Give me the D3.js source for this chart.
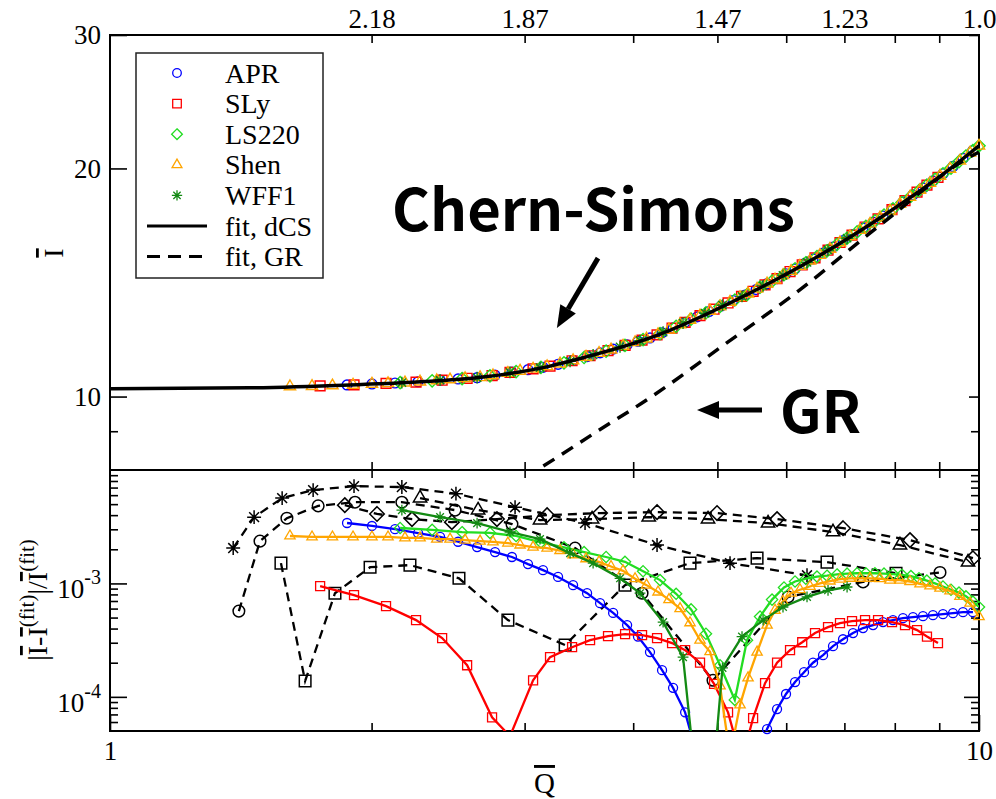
<!DOCTYPE html>
<html><head><meta charset="utf-8">
<script src="https://cdn.jsdelivr.net/npm/d3@7"></script>
<style>body{margin:0;background:#fff}svg{display:block}</style>
</head><body>
<svg id="chart" width="996" height="799"></svg>
<script>
// ---------------- DATA ----------------
const eosNames = ["APR", "SLy", "LS220", "Shen", "WFF1"];

// APR (dCS data)
const aprQ = [1.874,2.002,2.128,2.262,2.398,2.515,2.645,2.774,2.901,3.027,3.150,3.278,3.411,3.540,3.664,3.793,3.936,4.051,4.182,4.318,4.446,4.590,4.74,4.89,5.05,5.21,5.38,5.54,5.703,5.856,5.997,6.142,6.290,6.442,6.615,6.792,6.975,7.162,7.354,7.552,7.754,7.962,8.176,8.396,8.621,8.852,9.090,9.334,9.585,9.841];
const aprI = [10.36,10.39,10.42,10.46,10.51,10.55,10.59,10.67,10.77,10.85,10.93,11.03,11.16,11.29,11.42,11.55,11.70,11.83,11.95,12.14,12.32,12.53,12.74,12.95,13.17,13.39,13.61,13.84,14.09,14.31,14.52,14.74,14.97,15.19,15.46,15.75,16.06,16.36,16.68,16.99,17.31,17.69,18.07,18.46,18.85,19.26,19.68,20.12,20.62,21.12];
const aprRes = [3.41e-3,3.21e-3,3.01e-3,2.78e-3,2.57e-3,2.33e-3,2.09e-3,1.89e-3,1.71e-3,1.48e-3,1.31e-3,1.14e-3,9.66e-4,8.2e-4,6.7e-4,5.5e-4,4.29e-4,3.4e-4,2.48e-4,1.72e-4,1.2e-4,7.3e-5,3.0e-5,1.2e-5,4e-6,5e-6,1.4e-5,2.8e-5,5.2e-5,7.8e-5,1.06e-4,1.35e-4,1.65e-4,2.0e-4,2.33e-4,2.8e-4,3.22e-4,3.65e-4,4.04e-4,4.29e-4,4.56e-4,4.75e-4,4.94e-4,5.04e-4,5.14e-4,5.25e-4,5.36e-4,5.47e-4,5.58e-4,5.58e-4];

// SLy
const slyQ = [1.745,1.909,2.078,2.250,2.411,2.576,2.752,2.886,3.068,3.209,3.402,3.568,3.742,3.915,4.095,4.261,4.434,4.590,4.775,4.956,5.143,5.33,5.496,5.673,5.856,6.061,6.26,6.476,6.703,6.919,7.143,7.394,7.653,7.941,8.22,8.486,8.712,8.970];
const slyI = [10.33,10.36,10.41,10.45,10.51,10.57,10.66,10.76,10.88,10.97,11.15,11.32,11.50,11.68,11.87,12.06,12.31,12.53,12.79,13.04,13.29,13.56,13.77,14.04,14.31,14.62,14.92,15.24,15.60,15.97,16.33,16.74,17.16,17.65,18.14,18.61,19.01,19.47];
const slyRes = [9.47e-4,7.89e-4,6.3e-4,4.75e-4,3.3e-4,1.9e-4,6.6e-5,4.5e-5,1.4e-4,2.24e-4,2.74e-4,3.16e-4,3.43e-4,3.57e-4,3.5e-4,3.3e-4,2.98e-4,2.58e-4,2.0e-4,1.3e-4,7.3e-5,2.7e-5,6.5e-5,1.32e-4,2.0e-4,2.58e-4,3.03e-4,3.65e-4,4.12e-4,4.47e-4,4.65e-4,4.75e-4,4.75e-4,4.56e-4,4.29e-4,3.88e-4,3.4e-4,2.98e-4];

// LS220
const ls220Q = [2.157,2.348,2.542,2.737,2.933,3.133,3.33,3.512,3.723,3.914,4.106,4.295,4.482,4.663,4.851,5.035,5.236,5.408,5.598,5.779,5.965,6.142,6.32,6.51,6.685,6.865,7.05,7.24,7.41,7.59,7.775,7.962,8.154,8.35,8.53,8.71,8.9,9.09,9.285,9.484,9.66,9.84,10.0];
const ls220I = [10.43,10.49,10.56,10.65,10.79,10.93,11.08,11.26,11.48,11.68,11.89,12.11,12.38,12.65,12.90,13.15,13.41,13.63,13.94,14.20,14.48,14.74,15.01,15.30,15.57,15.88,16.18,16.49,16.77,17.06,17.36,17.69,18.03,18.38,18.69,19.01,19.34,19.68,20.02,20.42,20.77,21.12,21.42];
const ls220Res = [3.08e-3,2.97e-3,2.83e-3,2.79e-3,2.62e-3,2.3e-3,2.08e-3,1.89e-3,1.71e-3,1.55e-3,1.28e-3,1.07e-3,8.1e-4,5.9e-4,3.6e-4,1.9e-4,9.4e-5,3.16e-4,5.1e-4,7.2e-4,9.2e-4,1.04e-3,1.10e-3,1.15e-3,1.17e-3,1.2e-3,1.22e-3,1.23e-3,1.23e-3,1.23e-3,1.22e-3,1.21e-3,1.19e-3,1.16e-3,1.11e-3,1.06e-3,1.0e-3,9.4e-4,8.8e-4,8.3e-4,7.7e-4,6.9e-4,6.2e-4];

// Shen
const shenQ = [1.611,1.708,1.803,1.904,2.002,2.089,2.185,2.274,2.377,2.462,2.562,2.666,2.759,2.87,2.964,3.068,3.184,3.295,3.411,3.530,3.654,3.772,3.894,4.02,4.144,4.272,4.398,4.529,4.65,4.775,4.903,5.035,5.17,5.309,5.423,5.554,5.703,5.825,5.949,6.077,6.223,6.391,6.562,6.738,6.919,7.105,7.296,7.492,7.693,7.899,8.111,8.329,8.553,8.782,9.018,9.26,9.509,9.764,10.0];
const shenI = [10.31,10.32,10.34,10.36,10.39,10.41,10.43,10.46,10.50,10.53,10.57,10.60,10.66,10.74,10.81,10.88,10.96,11.05,11.16,11.28,11.41,11.53,11.66,11.79,11.92,12.08,12.25,12.45,12.62,12.79,12.97,13.15,13.33,13.52,13.67,13.87,14.09,14.26,14.45,14.64,14.87,15.11,15.37,15.66,15.97,16.27,16.58,16.90,17.22,17.58,17.95,18.34,18.73,19.13,19.55,19.97,20.47,20.97,21.42];
const shenRes = [2.62e-3,2.57e-3,2.57e-3,2.57e-3,2.57e-3,2.57e-3,2.52e-3,2.52e-3,2.46e-3,2.46e-3,2.41e-3,2.36e-3,2.32e-3,2.27e-3,2.18e-3,2.09e-3,2.05e-3,1.95e-3,1.79e-3,1.65e-3,1.55e-3,1.41e-3,1.29e-3,1.10e-3,9.66e-4,8.4e-4,7.2e-4,6.0e-4,4.5e-4,3.16e-4,2.5e-4,1.25e-4,3e-5,8.5e-5,1.47e-4,2.48e-4,4.29e-4,5.8e-4,6.95e-4,8.2e-4,8.8e-4,9.4e-4,1.0e-3,1.05e-3,1.09e-3,1.11e-3,1.11e-3,1.11e-3,1.10e-3,1.07e-3,1.07e-3,1.04e-3,9.9e-4,9.5e-4,9.1e-4,8.6e-4,7.7e-4,6.7e-4,5.1e-4];

// WFF1
const wff1Q = [2.167,2.398,2.645,2.886,3.125,3.384,3.597,3.863,4.073,4.33,4.565,4.84,5.068,5.337,5.643,5.949,6.34,6.703,7.05];
const wff1I = [10.43,10.51,10.59,10.76,10.92,11.13,11.35,11.63,11.85,12.16,12.50,12.88,13.20,13.56,14.00,14.45,15.04,15.60,16.18];
const wff1Res = [4.43e-3,3.85e-3,3.40e-3,2.84e-3,2.46e-3,1.85e-3,1.51e-3,1.11e-3,8.2e-4,4.56e-4,2.24e-4,3e-6,1.8e-4,3.4e-4,4.75e-4,6.2e-4,7.6e-4,8.7e-4,9.3e-4];

// residuals with respect to the GR fit (GR data)
const grAprQ = [1.407,1.488,1.598,1.736,1.914,2.167,2.495,2.901,3.429,4.095,4.942,6.029,7.355,9.018];
const grAprRes = [5.7e-4,2.36e-3,3.76e-3,4.83e-3,5.2e-3,5.2e-3,4.43e-3,3.34e-3,2.05e-3,8.2e-4,1.40e-4,7.6e-4,1.03e-3,1.25e-3];
const grSlyQ = [1.573,1.677,1.815,1.992,2.214,2.521,2.870,3.340,3.914,4.650,5.554,6.685,8.026];
const grSlyRes = [1.51e-3,1.38e-4,8.2e-4,1.39e-3,1.45e-3,1.11e-3,4.75e-4,2.86e-4,9.66e-4,1.51e-3,1.67e-3,1.54e-3,1.23e-3];
const grLs220Q = [1.863,2.029,2.226,2.474,2.788,3.184,3.664,4.261,4.995,5.856,6.975,8.329,9.841];
const grLs220Res = [4.9e-3,4.1e-3,3.69e-3,3.47e-3,3.69e-3,4.0e-3,4.17e-3,4.25e-3,4.17e-3,3.69e-3,3.07e-3,2.41e-3,1.67e-3];
const grShenQ = [2.274,2.652,3.125,3.587,4.168,4.877,5.718,6.792,8.111,9.713];
const grShenRes = [5.65e-3,4.43e-3,3.62e-3,3.69e-3,3.84e-3,3.69e-3,3.40e-3,2.84e-3,2.18e-3,1.54e-3];
const grWff1Q = [1.386,1.465,1.578,1.713,1.909,2.167,2.501,2.925,3.521,4.261,5.170,6.34];
const grWff1Res = [2.05e-3,3.84e-3,5.65e-3,6.65e-3,7.21e-3,7.07e-3,6.19e-3,4.7e-3,3.41e-3,2.18e-3,1.51e-3,1.18e-3];

// fits
const fitCsQ = [1,1.449,1.889,2.256,2.687,3.209,3.502,4.182,5.452,6.509,7.754,9.26,10];
const fitCsI = [10.24,10.27,10.36,10.45,10.61,10.97,11.25,11.95,13.70,15.28,17.31,19.97,21.42];
const fitGrQ = [3.0,3.10,3.66,4.18,5.03,6.22,7.75,9.76,10];
const fitGrI = [7.82,8.0,9.04,9.96,11.59,13.83,16.95,20.71,21.02];

// ticks
const xMajor = [1, 10];
const xMinor = [2,3,4,5,6,7,8,9];
const topTickQ = [2, 3, 5, 7, 10];
const topTickLabels = ["2.18", "1.87", "1.47", "1.23", "1.0"];
const yTopMajor = [10, 20, 30];
const yTopMinor = [9];
const yBotMajor = [1e-4, 1e-3];
const yBotExp = ["-4", "-3"];
const yBotMinor = [6e-5,7e-5,8e-5,9e-5,2e-4,3e-4,4e-4,5e-4,6e-4,7e-4,8e-4,9e-4,2e-3,3e-3,4e-3,5e-3,6e-3,7e-3,8e-3,9e-3];
const legendLabels = ["APR", "SLy", "LS220", "Shen", "WFF1", "fit, dCS", "fit, GR"];

(function(){
// ---------------- STYLE ----------------
const colors = {APR:"#0000ff", SLy:"#ff0000", LS220:"#22dd22", Shen:"#ffa500", WFF1:"#138a13"};
const shapes = {APR:"circle", SLy:"square", LS220:"diamond", Shen:"triangle", WFF1:"star"};
const eos = [
  {name:"APR", Q:aprQ, I:aprI, R:aprRes, gQ:grAprQ, gR:grAprRes},
  {name:"SLy", Q:slyQ, I:slyI, R:slyRes, gQ:grSlyQ, gR:grSlyRes},
  {name:"LS220", Q:ls220Q, I:ls220I, R:ls220Res, gQ:grLs220Q, gR:grLs220Res},
  {name:"Shen", Q:shenQ, I:shenI, R:shenRes, gQ:grShenQ, gR:grShenRes},
  {name:"WFF1", Q:wff1Q, I:wff1I, R:wff1Res, gQ:grWff1Q, gR:grWff1Res}
];

const L = 110, Rt = 979, T = 35, M = 470, B = 731;
const FONT = "'Liberation Serif','Times New Roman',serif";
const svg = d3.select("#chart");
const x = d3.scaleLog().domain([1, 10]).range([L, Rt]);
const yT = d3.scaleLog().domain([8, 30]).range([M, T]);
const yB = d3.scaleLog().domain([5e-5, 1e-2]).range([B, M]);

function symPath(type, s) {
  switch (type) {
    case "circle": return `M${-s},0a${s},${s} 0 1,0 ${2*s},0a${s},${s} 0 1,0 ${-2*s},0Z`;
    case "square": return `M${-s},${-s}h${2*s}v${2*s}h${-2*s}Z`;
    case "diamond": { const d = s*1.25; return `M0,${-d}L${d},0L0,${d}L${-d},0Z`; }
    case "triangle": { const a = s*2.3, h = a*0.866; return `M0,${-h*2/3}L${a/2},${h/3}L${-a/2},${h/3}Z`; }
    case "star": { const r = s*1.2, q = r*0.707; return `M${-r},0H${r}M0,${-r}V${r}M${-q},${-q}L${q},${q}M${-q},${q}L${q},${-q}`; }
  }
}

const defs = svg.append("defs");
defs.append("clipPath").attr("id","clipT").append("rect").attr("x",L).attr("y",T).attr("width",Rt-L).attr("height",M-T);
defs.append("clipPath").attr("id","clipB").append("rect").attr("x",L).attr("y",M).attr("width",Rt-L).attr("height",B-M);

// ---------------- AXES ----------------
function styleAxis(g) {
  g.select(".domain").remove();
  g.selectAll(".tick line").attr("stroke","#000").attr("stroke-width",1.6);
  g.selectAll(".tick text").attr("font-family",FONT).attr("font-size",27).attr("fill","#000");
}
const ax = svg.append("g");
ax.append("g").attr("transform",`translate(0,${B})`)
  .call(d3.axisBottom(x).tickValues(xMajor).tickSize(-16).tickPadding(10).tickFormat(d3.format("d"))).call(styleAxis);
ax.append("g").attr("transform",`translate(0,${B})`)
  .call(d3.axisBottom(x).tickValues(xMinor).tickSize(-8).tickFormat("")).call(styleAxis);
ax.append("g").attr("transform",`translate(0,${M})`)
  .call(d3.axisTop(x).tickValues(xMinor).tickSize(-8).tickFormat("")).call(styleAxis);
ax.append("g").attr("transform",`translate(0,${M})`)
  .call(d3.axisBottom(x).tickValues(xMinor).tickSize(-8).tickFormat("")).call(styleAxis);
ax.append("g").attr("transform",`translate(0,${T})`)
  .call(d3.axisTop(x).tickValues(xMinor).tickSize(-8).tickFormat("")).call(styleAxis);
ax.append("g").attr("transform",`translate(0,${T})`)
  .call(d3.axisTop(x).tickValues(topTickQ).tickSize(0).tickPadding(7)
    .tickFormat((d,i)=>topTickLabels[i])).call(styleAxis);
ax.append("g").attr("transform",`translate(${L},0)`)
  .call(d3.axisLeft(yT).tickValues(yTopMajor).tickSize(-17).tickPadding(9).tickFormat(d3.format("d"))).call(styleAxis);
ax.append("g").attr("transform",`translate(${L},0)`)
  .call(d3.axisLeft(yT).tickValues(yTopMinor).tickSize(-8).tickFormat("")).call(styleAxis);
ax.append("g").attr("transform",`translate(${Rt},0)`)
  .call(d3.axisRight(yT).tickValues(yTopMajor).tickSize(-10).tickFormat("")).call(styleAxis);
ax.append("g").attr("transform",`translate(${Rt},0)`)
  .call(d3.axisRight(yT).tickValues(yTopMinor).tickSize(-8).tickFormat("")).call(styleAxis);
ax.append("g").attr("transform",`translate(${L},0)`)
  .call(d3.axisLeft(yB).tickValues(yBotMajor).tickSize(-17).tickFormat("")).call(styleAxis);
ax.append("g").attr("transform",`translate(${L},0)`)
  .call(d3.axisLeft(yB).tickValues(yBotMinor).tickSize(-8).tickFormat("")).call(styleAxis);
ax.append("g").attr("transform",`translate(${Rt},0)`)
  .call(d3.axisRight(yB).tickValues(yBotMajor).tickSize(-15).tickFormat("")).call(styleAxis);
ax.append("g").attr("transform",`translate(${Rt},0)`)
  .call(d3.axisRight(yB).tickValues(yBotMinor).tickSize(-8).tickFormat("")).call(styleAxis);
yBotMajor.forEach((v,i)=>{
  const t = ax.append("text").attr("x",101).attr("y",yB(v)+15).attr("text-anchor","end")
    .attr("font-family",FONT).attr("font-size",27);
  t.append("tspan").text("10");
  t.append("tspan").attr("dy",-14).attr("font-size",20).text(yBotExp[i]);
});

svg.append("rect").attr("x",L).attr("y",T).attr("width",Rt-L).attr("height",M-T)
  .attr("fill","none").attr("stroke","#000").attr("stroke-width",2);
svg.append("rect").attr("x",L).attr("y",M).attr("width",Rt-L).attr("height",B-M)
  .attr("fill","none").attr("stroke","#000").attr("stroke-width",2);

const qt = svg.append("text").attr("x",(L+Rt)/2).attr("y",793).attr("text-anchor","middle")
  .attr("font-family",FONT).attr("font-size",29);
qt.append("tspan").style("text-decoration","overline").text("Q");

const it = svg.append("text").attr("transform","translate(63,253) rotate(-90)").attr("text-anchor","middle")
  .attr("font-family",FONT).attr("font-size",28);
it.append("tspan").style("text-decoration","overline").text("I");

const rt = svg.append("text").attr("transform","translate(47,600) rotate(-90)").attr("text-anchor","middle")
  .attr("font-family",FONT).attr("font-size",28);
rt.append("tspan").text("|");
rt.append("tspan").style("text-decoration","overline").text("I");
rt.append("tspan").text("-");
rt.append("tspan").style("text-decoration","overline").text("I");
rt.append("tspan").attr("dy",-13).attr("font-size",21).text("(fit)");
rt.append("tspan").attr("dy",13).text("|/");
rt.append("tspan").style("text-decoration","overline").text("I");
rt.append("tspan").attr("dy",-13).attr("font-size",21).text("(fit)");

// ---------------- TOP PANEL ----------------
const topG = svg.append("g");
eos.forEach(e=>{
  topG.append("g").selectAll("path").data(e.Q.map((q,i)=>[q,e.I[i]])).join("path")
    .attr("transform",d=>`translate(${x(d[0])},${yT(d[1])})`)
    .attr("d",symPath(shapes[e.name],4.9))
    .attr("fill","none").attr("stroke",colors[e.name]).attr("stroke-width",1.4);
});
const lineT = d3.line().x(d=>x(d[0])).y(d=>yT(d[1])).curve(d3.curveMonotoneX);
topG.append("path").attr("clip-path","url(#clipT)")
  .attr("d",lineT(fitGrQ.map((q,i)=>[q,fitGrI[i]])))
  .attr("fill","none").attr("stroke","#000").attr("stroke-width",3.5).attr("stroke-dasharray","13,9");
topG.append("path").attr("clip-path","url(#clipT)")
  .attr("d",lineT(fitCsQ.map((q,i)=>[q,fitCsI[i]])))
  .attr("fill","none").attr("stroke","#000").attr("stroke-width",3.5);

// ---------------- BOTTOM PANEL ----------------
const botG = svg.append("g");
const lineB = d3.line().x(d=>x(d[0])).y(d=>yB(d[1]));
const inB = d=>d[1]>=5e-5 && d[1]<=1e-2;
eos.forEach(e=>{
  const pts = e.gQ.map((q,i)=>[q,e.gR[i]]);
  botG.append("path").attr("clip-path","url(#clipB)").attr("d",lineB(pts))
    .attr("fill","none").attr("stroke","#000").attr("stroke-width",2.3).attr("stroke-dasharray","9,6");
  botG.append("g").selectAll("path").data(pts.filter(inB)).join("path")
    .attr("transform",d=>`translate(${x(d[0])},${yB(d[1])})`)
    .attr("d",symPath(shapes[e.name],5.8))
    .attr("fill","none").attr("stroke","#000").attr("stroke-width",1.5);
});
eos.forEach(e=>{
  const pts = e.Q.map((q,i)=>[q,e.R[i]]);
  botG.append("path").attr("clip-path","url(#clipB)").attr("d",lineB(pts))
    .attr("fill","none").attr("stroke",colors[e.name]).attr("stroke-width",2.3);
  botG.append("g").selectAll("path").data(pts.filter(inB)).join("path")
    .attr("transform",d=>`translate(${x(d[0])},${yB(d[1])})`)
    .attr("d",symPath(shapes[e.name],4.5))
    .attr("fill","none").attr("stroke",colors[e.name]).attr("stroke-width",1.3);
});

// ---------------- LEGEND ----------------
const lg = svg.append("g");
lg.append("rect").attr("x",136).attr("y",53).attr("width",187).attr("height",225)
  .attr("fill","#fff").attr("stroke","#222").attr("stroke-width",1.5);
legendLabels.forEach((lab,i)=>{
  const cy = 73 + i*30.6;
  if (i < 5) {
    const n = eosNames[i];
    lg.append("path").attr("transform",`translate(177,${cy})`).attr("d",symPath(shapes[n],4.3))
      .attr("fill","none").attr("stroke",colors[n]).attr("stroke-width",1.3);
  } else {
    lg.append("line").attr("x1",147).attr("x2",207).attr("y1",cy).attr("y2",cy)
      .attr("stroke","#000").attr("stroke-width",3).attr("stroke-dasharray", i===6 ? "13,8" : null);
  }
  lg.append("text").attr("x",225).attr("y",cy+9.5).attr("font-family",FONT).attr("font-size",28).text(lab);
});

// ---------------- ANNOTATIONS ----------------
const annFont = "'Noto Sans CJK SC','Noto Sans',sans-serif";
const annotations = [
  {text:"Chern-Simons", q:2.111, v:16.54},
  {text:"GR", q:5.902, v:8.95}
];
const arrows = [
  {from:[3.644,15.23], to:[3.268,12.32]},
  {from:[5.627,9.60], to:[4.737,9.60]}
];
annotations.forEach(a=>{
  svg.append("text").attr("x",x(a.q)).attr("y",yT(a.v)).attr("font-family",annFont)
    .attr("font-weight",700).attr("font-size",58).attr("fill","#000").text(a.text);
});
arrows.forEach(a=>{
  const x1=x(a.from[0]), y1=yT(a.from[1]), x2=x(a.to[0]), y2=yT(a.to[1]);
  const ang = Math.atan2(y2-y1, x2-x1), hl = 22, hw = 9;
  const bx = x2 - hl*Math.cos(ang), by = y2 - hl*Math.sin(ang);
  svg.append("line").attr("x1",x1).attr("y1",y1).attr("x2",bx).attr("y2",by)
    .attr("stroke","#000").attr("stroke-width",5);
  const px = -Math.sin(ang)*hw, py = Math.cos(ang)*hw;
  svg.append("path").attr("d",`M${x2},${y2}L${bx+px},${by+py}L${bx-px},${by-py}Z`).attr("fill","#000");
});
})();
</script>
</body></html>
